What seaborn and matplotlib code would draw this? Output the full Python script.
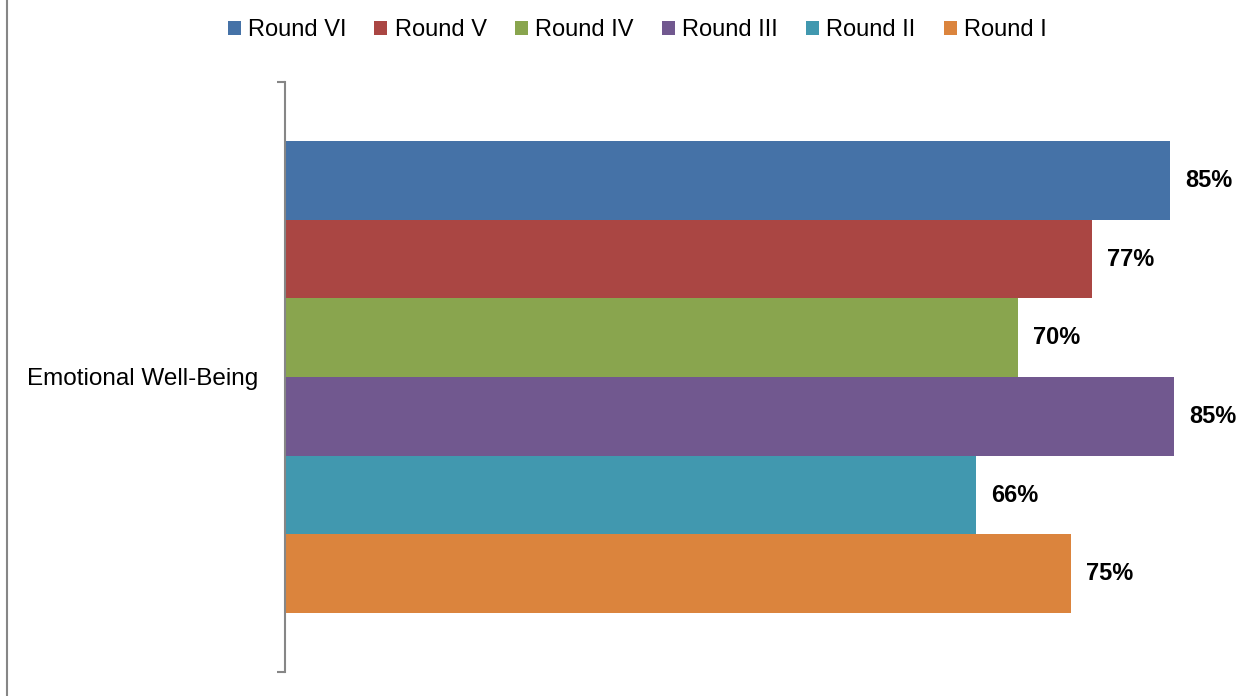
import numpy as np
import pandas as pd
import seaborn as sns
import matplotlib
import matplotlib.pyplot as plt
from matplotlib.patches import Patch
from matplotlib.lines import Line2D

matplotlib.use('Agg')

# chart data
category = ["Emotional Well-Being"]
rounds = ["Round VI", "Round V", "Round IV", "Round III", "Round II", "Round I"]
values = [84.8, 77.3, 70.2, 85.2, 66.2, 75.3]
colors = ["#4572A7", "#AA4643", "#89A54E", "#71588F", "#4198AF", "#DB843D"]

df = pd.DataFrame({
    "category": category * len(rounds),
    "round": rounds,
    "value": values,
})

sns.set_style("white")
plt.rcParams['font.family'] = ['Liberation Sans', 'DejaVu Sans']
plt.rcParams['text.color'] = 'black'
plt.rcParams['ytick.labelcolor'] = 'black'

fig = plt.figure(figsize=(12.44, 6.96), dpi=100)
ax = fig.add_axes([285 / 1244, 24 / 696, 955 / 1244, 590 / 696])

sns.barplot(data=df, y="category", x="value", hue="round", hue_order=rounds,
            palette=colors, orient="h", width=0.8, saturation=1,
            edgecolor="none", linewidth=0, legend=False, ax=ax)

ax.set_xlim(0, 91.5)
ax.set_ylim(0.5, -0.5)

# data labels
for cont in ax.containers:
    for bar in cont:
        w = bar.get_width()
        yc = bar.get_y() + bar.get_height() / 2
        ax.annotate(f"{round(w):d}%", (w, yc), xytext=(11, 0),
                    textcoords="offset points", ha="left", va="center",
                    fontsize=17, fontweight="bold", color="black")

# axis styling
gray = "#868686"
for s in ["top", "right", "bottom"]:
    ax.spines[s].set_visible(False)
ax.spines["left"].set_color(gray)
ax.spines["left"].set_linewidth(1.5)
ax.set_xticks([])
ax.set_xlabel("")
ax.set_ylabel("")
ax.set_yticks([-0.5, 0.5])
ax.set_yticklabels([])
ax.set_yticks([0], minor=True)
ax.set_yticklabels(category, minor=True, fontsize=17.5, color="black")
ax.tick_params(axis="y", which="major", length=6, width=1.5, color=gray, left=True)
ax.tick_params(axis="y", which="minor", length=0, pad=19)

# legend
handles = [Patch(facecolor=c, edgecolor="none", label=r) for r, c in zip(rounds, colors)]
fig.legend(handles=handles, loc="center", bbox_to_anchor=(637 / 1244, 1 - 30 / 696),
           ncol=6, frameon=False, fontsize=17, handlelength=0.55, handleheight=0.55,
           handletextpad=0.3, columnspacing=1.2, labelcolor="black")

# chart border on the left
fig.add_artist(Line2D([7 / 1244, 7 / 1244], [0, 1], color=gray, linewidth=1.5,
                      transform=fig.transFigure))

fig.savefig("out.png", dpi=100)
